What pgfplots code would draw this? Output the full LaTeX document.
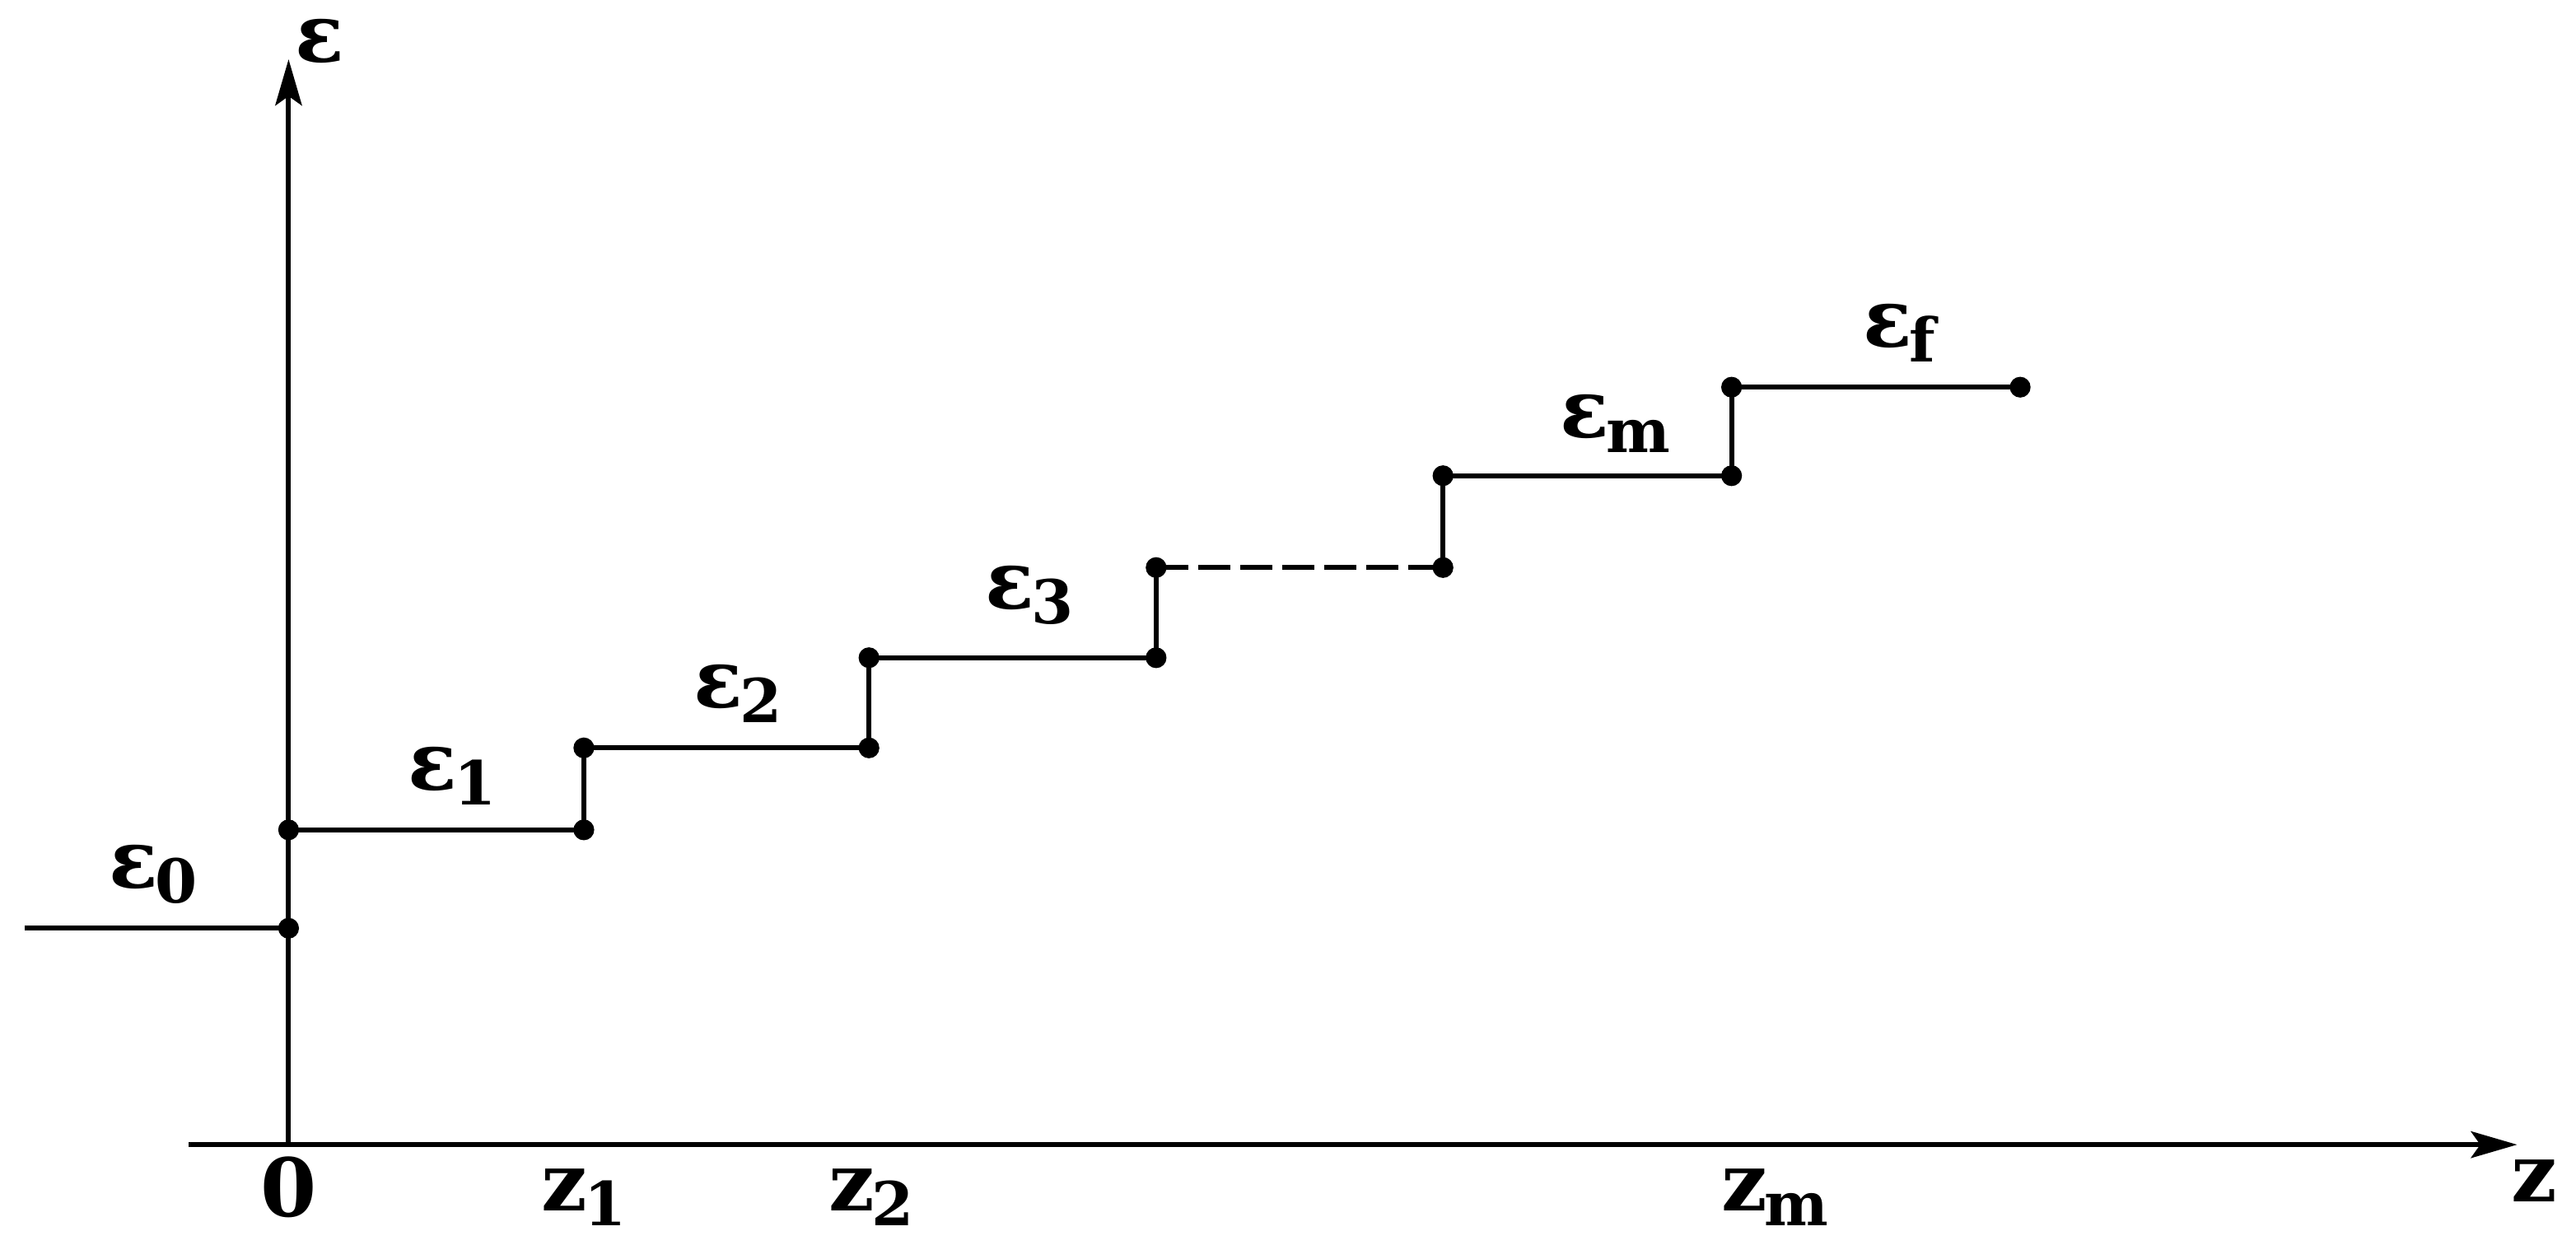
\documentclass[border=0pt]{standalone}
\usepackage{pgfplots}
\pgfplotsset{compat=1.18}
\usetikzlibrary{arrows.meta}
\usepackage{fontspec}
\setmainfont{DejaVu Serif}
\newcommand\sub[1]{\raisebox{-0.5ex}{\fontsize{10.5}{12}\selectfont\bfseries #1}}
\newcommand\lbl[2]{{\fontsize{14}{16}\selectfont\bfseries #1}\kern-0.5pt\sub{#2}}
\begin{document}
\begin{tikzpicture}
\begin{axis}[x=1.76cm, y=1cm, xmin=-1, xmax=7.909, ymin=-0.61, ymax=6.95,
  hide axis, clip=false, scale only axis]
\path (rel axis cs:0,0) rectangle (rel axis cs:1,1);
% axes
\addplot[black, line width=0.85pt, -{Stealth[length=8pt,width=4.6pt,inset=1.6pt]}] coordinates {(-0.347,0) (7.722,0)};
\addplot[black, line width=0.85pt, -{Stealth[length=8pt,width=4.6pt,inset=1.6pt]}] coordinates {(0,0) (0,6.62)};
% epsilon_0 segment
\addplot[black, line width=0.85pt] coordinates {(-0.915,1.32) (0,1.32)};
% solid steps
\addplot[black, line width=0.85pt] coordinates {(0,1.32) (0,1.92) (1.023,1.92) (1.023,2.42) (2.011,2.42) (2.011,2.97) (3.006,2.97) (3.006,3.52)};
\addplot[black, line width=0.85pt, dash pattern=on 5.6pt off 1.7pt] coordinates {(3.006,3.52) (4.0,3.52)};
\addplot[black, line width=0.85pt] coordinates {(4.0,3.52) (4.0,4.08) (5.0,4.08) (5.0,4.62) (6.0,4.62)};
% dots
\addplot[only marks, mark=*, mark size=1.6pt, black] coordinates {
(0,1.32) (0,1.92) (1.023,1.92) (1.023,2.42) (2.011,2.42) (2.011,2.97)
(3.006,2.97) (3.006,3.52) (4.0,3.52) (4.0,4.08) (5.0,4.08) (5.0,4.62) (6.0,4.62)};
% labels
\node at (axis cs:0.108,6.73) {\fontsize{14}{16}\selectfont\bfseries ε};
\node at (axis cs:-0.47,1.65) {\lbl{ε}{0}};
\node at (axis cs:0.568,2.25) {\lbl{ε}{1}};
\node at (axis cs:1.557,2.75) {\lbl{ε}{2}};
\node at (axis cs:2.568,3.35) {\lbl{ε}{3}};
\node at (axis cs:4.597,4.40) {\lbl{ε}{m}};
\node at (axis cs:5.58,4.95) {\lbl{ε}{f}};
\node at (axis cs:0,-0.26) {\fontsize{14}{16}\selectfont\bfseries 0};
\node at (axis cs:1.023,-0.32) {\lbl{z}{1}};
\node at (axis cs:2.02,-0.32) {\lbl{z}{2}};
\node at (axis cs:5.15,-0.32) {\lbl{z}{m}};
\node at (axis cs:7.78,-0.22) {\fontsize{14}{16}\selectfont\bfseries z};
\end{axis}
\end{tikzpicture}
\end{document}
